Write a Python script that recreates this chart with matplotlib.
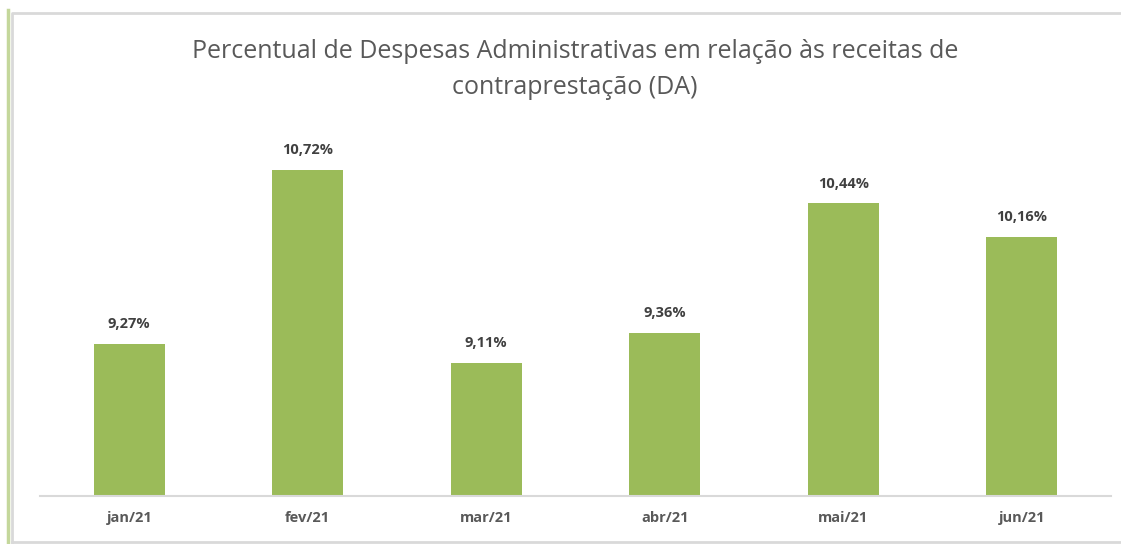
import matplotlib
matplotlib.use("Agg")
import matplotlib.pyplot as plt
import numpy as np
from matplotlib.lines import Line2D

months = ["jan/21", "fev/21", "mar/21", "abr/21", "mai/21", "jun/21"]
values = [9.27, 10.72, 9.11, 9.36, 10.44, 10.16]
value_labels = ["9,27%", "10,72%", "9,11%", "9,36%", "10,44%", "10,16%"]

W, H = 1121, 544
fig = plt.figure(figsize=(W / 100, H / 100), dpi=100)
fig.patch.set_facecolor("white")

# outer frame and green left stripe
fig.add_artist(Line2D([8 / W, 8 / W], [0, 1 - 10 / H], color="#c4d79b", lw=2.5, transform=fig.transFigure))
fig.add_artist(Line2D([12 / W, 12 / W, 1.0], [2 / H, 1 - 13 / H, 1 - 13 / H], color="#d9d9d9", lw=2, transform=fig.transFigure))
fig.add_artist(Line2D([12 / W, 1.0], [2 / H, 2 / H], color="#d9d9d9", lw=2, transform=fig.transFigure))

ax = fig.add_axes([40 / W, (H - 496) / H, (1111 - 40) / W, (496 - 136) / H])
x = np.arange(len(months))
bars = ax.bar(x, values, width=0.40, color="#9bbb59", zorder=2)
ax.set_xlim(-0.5, len(months) - 0.5)
ax.set_ylim(8.0, 11.0)

for rect, lbl in zip(bars, value_labels):
    ax.annotate(lbl, xy=(rect.get_x() + rect.get_width() / 2, rect.get_height()),
                xytext=(0, 9), textcoords="offset points",
                ha="center", va="bottom", fontsize=10.5, fontweight="bold",
                color="#404040", family="Open Sans")

ax.set_xticks(x)
ax.set_xticklabels(months, fontsize=10.5, fontweight="bold", color="#595959", family="Open Sans")
ax.tick_params(axis="x", length=0, pad=11)
ax.set_yticks([])
for s in ["top", "right", "left"]:
    ax.spines[s].set_visible(False)
ax.spines["bottom"].set_color("#d9d9d9")
ax.spines["bottom"].set_linewidth(1.5)
ax.set_facecolor("white")

fig.text(575 / W, 1 - 52 / H, "Percentual de Despesas Administrativas em relação às receitas de",
         ha="center", va="center", fontsize=18, color="#595959", family="Open Sans")
fig.text(575 / W, 1 - 88 / H, "contraprestação (DA)",
         ha="center", va="center", fontsize=18, color="#595959", family="Open Sans")

fig.savefig("out.png", dpi=100)
